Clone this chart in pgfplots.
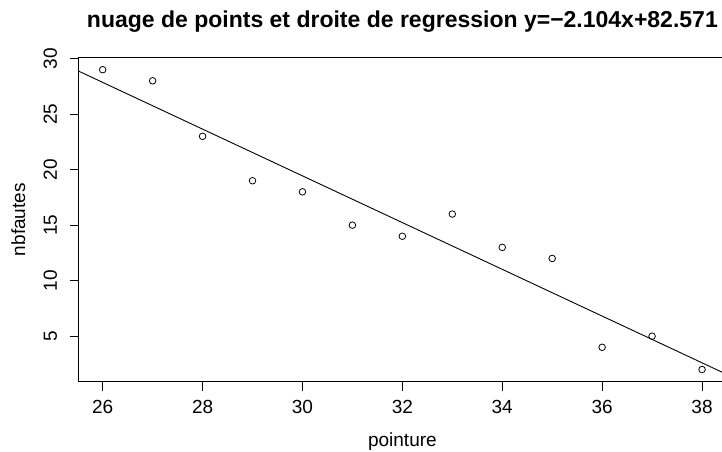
\documentclass[border=0pt]{standalone}
\usepackage{fontspec}
\setmainfont{Liberation Sans}
\usepackage{pgfplots}
\pgfplotsset{compat=1.18}
\begin{document}
\begin{tikzpicture}[x=1pt,y=1pt]
\begin{axis}[
  at={(78.7pt,69.5pt)}, anchor=south west,
  scale only axis, width=647.3pt, height=323.8pt,
  xmin=25.52, xmax=38.48, ymin=0.92, ymax=30.08,
  xtick={26,28,...,38}, ytick={5,10,...,30},
  minor tick num=0,
  tick align=outside, major tick length=9pt,
  xtick pos=bottom, ytick pos=left,
  tick style={black, line width=0.9pt},
  axis line style={line width=0.9pt},
  /pgf/number format/assume math mode=true,
  ticklabel style={font=\fontsize{19}{21}\selectfont},
  xticklabel shift=6pt,
  yticklabel shift=9pt,
  yticklabel style={rotate=90, anchor=south},
]
\addplot[only marks, mark=o, mark size=3.3pt, mark options={line width=0.8pt, black}] coordinates {
(26,29) (27,28) (28,23) (29,19) (30,18) (31,15) (32,14) (33,16) (34,13) (35,12) (36,4) (37,5) (38,2)
};
\addplot[black, line width=0.9pt] coordinates {(25,29.961) (39,0.4998)};
\end{axis}
\node[anchor=base, font=\fontsize{19}{21}\selectfont] at (402.4,5) {pointure};
\node[anchor=base, rotate=90, font=\fontsize{19}{21}\selectfont] at (25,231.4) {nbfautes};
\node[anchor=base, font=\fontsize{23}{25}\selectfont\bfseries] at (402.4,423.5) {nuage de points et droite de regression y=\textminus 2.104x+82.571};
\pgfresetboundingbox
\useasboundingbox (0,0) rectangle (722,451);
\end{tikzpicture}
\end{document}
